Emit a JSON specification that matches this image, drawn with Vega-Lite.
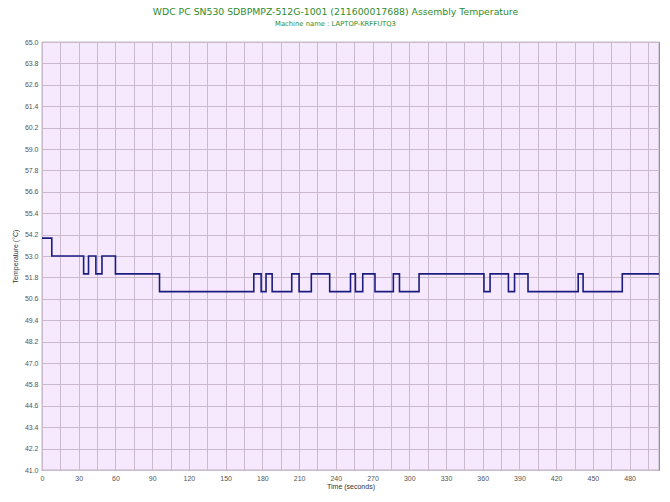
{
  "$schema": "https://vega.github.io/schema/vega-lite/v6.json",
  "autosize": "none",
  "width": 617,
  "height": 428,
  "padding": {"left": 42, "top": 42, "right": 11, "bottom": 32},
  "background": "white",
  "title": {
    "text": "WDC PC SN530 SDBPMPZ-512G-1001 (211600017688) Assembly Temperature",
    "subtitle": "Machine name : LAPTOP-KRFFUTQ3",
    "anchor": "middle",
    "frame": "group",
    "dx": -15,
    "offset": 10,
    "font": "DejaVu Sans",
    "fontSize": 9.3,
    "fontWeight": "normal",
    "color": "#2E8B2E",
    "subtitleFont": "DejaVu Sans",
    "subtitleFontSize": 6.8,
    "subtitleColor": "#2E8B2E",
    "subtitlePadding": 4
  },
  "config": {
    "view": {"stroke": "#888888", "strokeWidth": 1.2, "fill": "#F6E9FE"},
    "axis": {
      "labelFont": "Liberation Sans",
      "labelFontSize": 7,
      "labelColor": "#555555",
      "titleFont": "Liberation Sans",
      "titleFontSize": 7,
      "titleFontWeight": "normal",
      "titleColor": "#333333",
      "gridColor": "#CBB9CE",
      "gridOpacity": 1,
      "gridWidth": 1,
      "domain": false,
      "ticks": false
    }
  },
  "data": {
    "values": [
      {"t": 0, "temp": 54},
      {"t": 8, "temp": 53},
      {"t": 34, "temp": 52},
      {"t": 38, "temp": 53},
      {"t": 44, "temp": 52},
      {"t": 49, "temp": 53},
      {"t": 60, "temp": 52},
      {"t": 96, "temp": 51},
      {"t": 173, "temp": 52},
      {"t": 179, "temp": 51},
      {"t": 183, "temp": 52},
      {"t": 188, "temp": 51},
      {"t": 204, "temp": 52},
      {"t": 210, "temp": 51},
      {"t": 220, "temp": 52},
      {"t": 235, "temp": 51},
      {"t": 252, "temp": 52},
      {"t": 256, "temp": 51},
      {"t": 262, "temp": 52},
      {"t": 272, "temp": 51},
      {"t": 287, "temp": 52},
      {"t": 292, "temp": 51},
      {"t": 308, "temp": 52},
      {"t": 361, "temp": 51},
      {"t": 366, "temp": 52},
      {"t": 381, "temp": 51},
      {"t": 386, "temp": 52},
      {"t": 397, "temp": 51},
      {"t": 438, "temp": 52},
      {"t": 442, "temp": 51},
      {"t": 474, "temp": 52},
      {"t": 504, "temp": 52}
    ]
  },
  "mark": {"type": "line", "interpolate": "step-after", "color": "#1C1C80", "strokeWidth": 1.6},
  "encoding": {
    "x": {
      "field": "t",
      "type": "quantitative",
      "scale": {"domain": [0, 504], "nice": false, "zero": false},
      "axis": {
        "title": "Time (seconds)",
        "titleAnchor": "middle",
        "titlePadding": 1,
        "labelPadding": 4,
        "values": [0, 15, 30, 45, 60, 75, 90, 105, 120, 135, 150, 165, 180, 195, 210, 225, 240, 255, 270, 285, 300, 315, 330, 345, 360, 375, 390, 405, 420, 435, 450, 465, 480, 495],
        "labelExpr": "datum.value % 30 === 0 ? datum.label : ''",
        "labelFlush": false,
        "labelOverlap": false
      }
    },
    "y": {
      "field": "temp",
      "type": "quantitative",
      "scale": {"domain": [41, 65], "nice": false, "zero": false},
      "axis": {
        "title": "Temperature (°C)",
        "titlePadding": 6,
        "labelPadding": 4,
        "format": ".1f",
        "values": [41.0, 42.2, 43.4, 44.6, 45.8, 47.0, 48.2, 49.4, 50.6, 51.8, 53.0, 54.2, 55.4, 56.6, 57.8, 59.0, 60.2, 61.4, 62.6, 63.8, 65.0],
        "labelFlush": false,
        "labelOverlap": false
      }
    }
  }
}
